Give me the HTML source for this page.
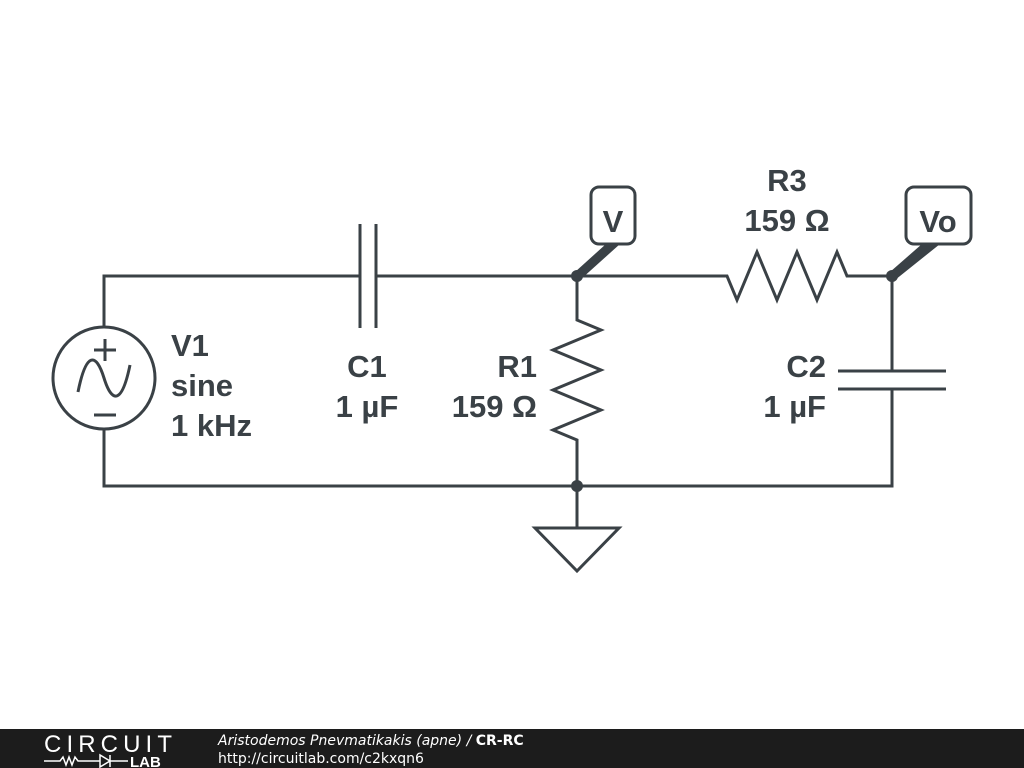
<!DOCTYPE html>
<html><head><style>body{margin:0;background:#fff}svg{display:block}</style></head><body>
<svg width="1024" height="768" viewBox="0 0 1024 768" xmlns="http://www.w3.org/2000/svg">
<g stroke="#3a4146" stroke-width="3" fill="none" stroke-linejoin="miter">
<polyline points="104,327 104,276 360,276"/>
<line x1="360" y1="224" x2="360" y2="328"/>
<line x1="376" y1="224" x2="376" y2="328"/>
<polyline points="376,276 727,276 737,300 757,252 777,300 797,252 817,300 837,252 847,276 892,276 892,371"/>
<line x1="838" y1="371" x2="946" y2="371"/>
<line x1="838" y1="389" x2="946" y2="389"/>
<polyline points="892,389 892,486 104,486 104,429"/>
<polyline points="577,276 577,320 601,330 553,350 601,370 553,390 601,410 553,430 577,440 577,528"/>
<polygon points="535,528 619,528 577,571"/>
<circle cx="104" cy="378" r="51"/>
<line x1="94" y1="350" x2="116" y2="350"/><line x1="105" y1="339" x2="105" y2="361"/>
<line x1="94" y1="415" x2="116" y2="415"/>
<path d="M78,392 C86,352 96,352 104,378 C112,404 122,404 130,365"/>
<rect x="591" y="187" width="44" height="57" rx="8"/>
<rect x="906" y="187" width="65" height="57" rx="8"/>
</g>
<g fill="#3a4146">
<circle cx="577" cy="276" r="6"/><circle cx="892" cy="276" r="6"/><circle cx="577" cy="486" r="6"/>
<polygon points="575,272 580,280 620,244 606,244"/>
<polygon points="890,272 895,280 940,244 922,244"/>
</g>
<g font-family="Liberation Sans, sans-serif" font-weight="bold" font-size="31" fill="#3a4146">
<text x="171" y="356">V1</text><text x="171" y="396">sine</text><text x="171" y="436">1 kHz</text>
<text x="367" y="377" text-anchor="middle">C1</text><text x="367" y="417" text-anchor="middle">1 µF</text>
<text x="537" y="377" text-anchor="end">R1</text><text x="537" y="417" text-anchor="end">159 Ω</text>
<text x="787" y="191" text-anchor="middle">R3</text><text x="787" y="231" text-anchor="middle">159 Ω</text>
<text x="826" y="377" text-anchor="end">C2</text><text x="826" y="417" text-anchor="end">1 µF</text>
<text x="613" y="232" text-anchor="middle">V</text><text x="938" y="232" text-anchor="middle">Vo</text>
</g>
<rect x="0" y="729" width="1024" height="39" fill="#1c1c1c"/>
<text x="44" y="752" font-family="Liberation Sans, sans-serif" font-size="24" fill="#fff" textLength="128">CIRCUIT</text>
<path d="M44,761 H60 l3,-4 3,8 3,-8 3,8 3,-8 3,4 H100 M100,755 v12 l10,-6 z M110,755 v12 M110,761 H128" stroke="#fff" stroke-width="1.5" fill="none"/>
<text x="130" y="767" font-family="Liberation Sans, sans-serif" font-weight="bold" font-size="15" fill="#fff">LAB</text>
<text x="218" y="745" font-family="DejaVu Sans, sans-serif" font-style="italic" font-size="14" fill="#fff">Aristodemos Pnevmatikakis (apne) / <tspan font-style="normal" font-weight="bold">CR-RC</tspan></text>
<text x="218" y="763" font-family="DejaVu Sans, sans-serif" font-size="14" fill="#fff">http://circuitlab.com/c2kxqn6</text>
</svg>
</body></html>
